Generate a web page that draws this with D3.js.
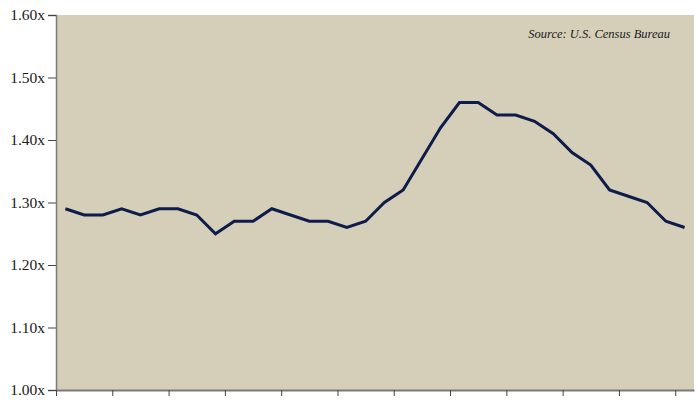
<!DOCTYPE html>
<html><head><meta charset="utf-8">
<script src="https://cdn.jsdelivr.net/npm/d3@7"></script>
<style>
html,body{margin:0;padding:0;background:#fff;}
svg{display:block;}
</style></head>
<body>
<svg id="chart" width="698" height="402"></svg>
<script>
const categories = d3.range(1, 35).map(String);
const values = [1.29,1.28,1.28,1.29,1.28,1.29,1.29,1.28,1.25,1.27,1.27,1.29,1.28,1.27,1.27,1.26,1.27,1.30,1.32,1.37,1.42,1.46,1.46,1.44,1.44,1.43,1.41,1.38,1.36,1.32,1.31,1.30,1.27,1.26];
const yTicks = [1.00,1.10,1.20,1.30,1.40,1.50,1.60];
const sourceText = "Source: U.S. Census Bureau";

const margin = {top:15, right:4, bottom:12, left:56};
const W = 698, H = 402;
const svg = d3.select("#chart");
const iw = W - margin.left - margin.right, ih = H - margin.top - margin.bottom;
const g = svg.append("g").attr("transform", `translate(${margin.left},${margin.top})`);

const x = d3.scaleBand().domain(categories).range([0, iw]);
const y = d3.scaleLinear().domain([1.0, 1.6]).range([ih, 0]);

g.append("rect").attr("width", iw).attr("height", ih).attr("fill", "#d5cfb9");

const yAxis = g.append("g").call(d3.axisLeft(y).tickValues(yTicks).tickSize(8).tickPadding(3).tickFormat(d => d3.format(".2f")(d) + "x"));
yAxis.select(".domain").attr("stroke", "#7a7a7a").attr("stroke-width", 1.5);
yAxis.selectAll(".tick line").attr("stroke", "#444");
yAxis.selectAll("text").attr("font-family", "'Liberation Serif','DejaVu Serif',serif").attr("font-size", 15.5).attr("fill", "#1a1a1a");

const tickCats = categories.filter((d, i) => i % 3 === 0);
const xAxis = g.append("g").attr("transform", `translate(0,${ih})`)
  .call(d3.axisBottom(x).tickValues(tickCats).tickSize(6).tickSizeOuter(0).tickFormat(""));
xAxis.selectAll(".tick").attr("transform", d => `translate(${x(d) + 0.5},0)`);
xAxis.select(".domain").attr("stroke", "#7a7a7a").attr("stroke-width", 2);
xAxis.selectAll(".tick line").attr("stroke", "#444");

const line = d3.line().x((d, i) => x(categories[i]) + x.bandwidth() / 2).y(d => y(d));
g.append("path").datum(values).attr("d", line).attr("fill", "none")
  .attr("stroke", "#0e1c4b").attr("stroke-width", 3).attr("stroke-linejoin", "miter");

g.append("text").attr("x", iw - 24).attr("y", 23).attr("text-anchor", "end")
  .attr("font-family", "'Liberation Serif','DejaVu Serif',serif").attr("font-style", "italic")
  .attr("font-size", 12.5).attr("fill", "#1a1a1a").text(sourceText);
</script>
</body></html>
